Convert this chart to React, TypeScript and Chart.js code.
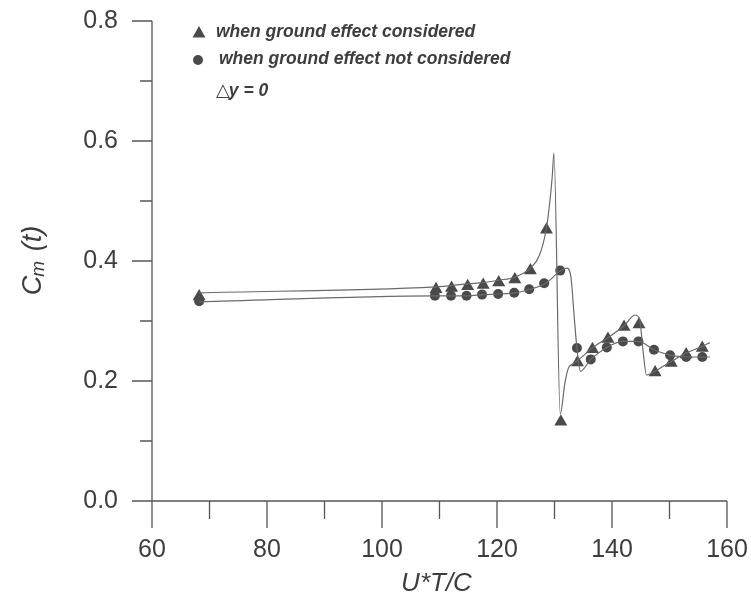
import React, { useEffect, useRef } from "react";
import { Chart, registerables } from "chart.js";

Chart.register(...registerables);

// ---- data ----
// curve with ground effect considered
const geCurveX = [68.2, 109.4, 112.1, 114.9, 117.6, 120.3, 123.1, 125.8, 127.4, 128.6, 129.2, 129.6, 129.9, 131.0, 131.8, 132.4, 133.3, 134.0, 136.7, 139.4, 142.2, 144.0, 144.8, 145.4, 146.0, 147.6, 150.4, 153.0, 155.8, 157.0];
const geCurveY = [0.347, 0.357, 0.359, 0.362, 0.364, 0.368, 0.373, 0.388, 0.41, 0.455, 0.5, 0.54, 0.58, 0.145, 0.196, 0.221, 0.229, 0.234, 0.256, 0.273, 0.293, 0.31, 0.303, 0.25, 0.21, 0.217, 0.233, 0.247, 0.258, 0.264];
// curve without ground effect
const ngeCurveX = [68.2, 109.4, 112.1, 114.9, 117.6, 120.3, 123.1, 125.8, 128.5, 131.1, 132.2, 132.9, 133.4, 133.9, 134.5, 136.3, 139.1, 141.9, 144.6, 147.3, 150.1, 152.9, 155.7, 157.0];
const ngeCurveY = [0.332, 0.342, 0.342, 0.342, 0.344, 0.345, 0.347, 0.353, 0.363, 0.384, 0.388, 0.37, 0.31, 0.255, 0.216, 0.236, 0.256, 0.266, 0.266, 0.252, 0.243, 0.24, 0.24, 0.24];
// markers
const geMarkX = [68.2, 109.4, 112.1, 114.9, 117.6, 120.3, 123.1, 125.8, 128.6, 131.1, 134.0, 136.6, 139.3, 142.1, 144.7, 147.5, 150.3, 152.9, 155.7];
const geMarkY = [0.341, 0.353, 0.355, 0.358, 0.36, 0.364, 0.369, 0.384, 0.452, 0.132, 0.231, 0.253, 0.27, 0.29, 0.294, 0.214, 0.23, 0.244, 0.255];
const ngeMarkX = [68.2, 109.2, 112.0, 114.7, 117.4, 120.2, 123.0, 125.6, 128.2, 131.0, 133.9, 136.3, 139.1, 141.9, 144.6, 147.3, 150.1, 152.9, 155.7];
const ngeMarkY = [0.333, 0.342, 0.342, 0.342, 0.344, 0.345, 0.347, 0.353, 0.363, 0.384, 0.255, 0.236, 0.256, 0.266, 0.266, 0.252, 0.243, 0.24, 0.24];

// ticks
const xMajorTicks = [60, 80, 100, 120, 140, 160];
const xMinorTicks = [70, 90, 110, 130, 150];
const yMajorTicks = [0, 0.2, 0.4, 0.6, 0.8];
const yMinorTicks = [0.1, 0.3, 0.5, 0.7];

// texts
const legendLabels = ["when ground effect considered", "when ground effect not considered"];
const noteSymbol = "\u25B3";
const noteText = "y = 0";
const xTitle = "U*T/C";
const yTitleMain = "C";
const yTitleSub = "m";
const yTitleRest = " (t)";

const FONT = "'Liberation Sans', Arial, sans-serif";
const TEXT = "#3d3d3d";
const AXIS = "#555555";
const LINE = "#6a6a6a";
const MARK = "#4a4a4a";

const pts = (xs: number[], ys: number[]) => xs.map((x, i) => ({ x, y: ys[i] }));

const zeroPad = (s: any) => {
  s.paddingTop = 0;
  s.paddingBottom = 0;
  s.paddingLeft = 0;
  s.paddingRight = 0;
};

const decorPlugin = {
  id: "decor",
  afterDraw(chart: any) {
    const ctx: CanvasRenderingContext2D = chart.ctx;
    const xs = chart.scales.x;
    const ys = chart.scales.y;
    const { left, right, top, bottom } = chart.chartArea;
    ctx.save();
    ctx.strokeStyle = AXIS;
    ctx.lineWidth = 1.3;
    // axis lines
    ctx.beginPath();
    ctx.moveTo(left, ys.getPixelForValue(0.8));
    ctx.lineTo(left, bottom);
    ctx.lineTo(xs.getPixelForValue(160), bottom);
    ctx.stroke();
    // x ticks
    ctx.beginPath();
    xMajorTicks.forEach((v) => {
      const p = xs.getPixelForValue(v);
      ctx.moveTo(p, bottom);
      ctx.lineTo(p, bottom + 27);
    });
    xMinorTicks.forEach((v) => {
      const p = xs.getPixelForValue(v);
      ctx.moveTo(p, bottom);
      ctx.lineTo(p, bottom + 18);
    });
    // y ticks
    yMajorTicks.forEach((v) => {
      const p = ys.getPixelForValue(v);
      ctx.moveTo(left, p);
      ctx.lineTo(left - 20, p);
    });
    yMinorTicks.forEach((v) => {
      const p = ys.getPixelForValue(v);
      ctx.moveTo(left, p);
      ctx.lineTo(left - 12, p);
    });
    ctx.stroke();

    // x title
    ctx.fillStyle = TEXT;
    ctx.font = `italic 26px ${FONT}`;
    ctx.textAlign = "center";
    ctx.textBaseline = "middle";
    ctx.fillText(xTitle, (left + right) / 2 - 3, 584);

    // y title (rotated, with subscript)
    ctx.save();
    ctx.translate(33, (top + bottom) / 2);
    ctx.rotate(-Math.PI / 2);
    ctx.textAlign = "left";
    ctx.textBaseline = "middle";
    const fMain = `italic 27px ${FONT}`;
    const fSub = `italic 19px ${FONT}`;
    ctx.font = fMain;
    const wC = ctx.measureText(yTitleMain).width;
    const wR = ctx.measureText(yTitleRest).width;
    ctx.font = fSub;
    const wM = ctx.measureText(yTitleSub).width;
    const total = wC + wM + wR;
    let cx = -total / 2;
    ctx.font = fMain;
    ctx.fillText(yTitleMain, cx, 0);
    cx += wC - 1;
    ctx.font = fSub;
    ctx.fillText(yTitleSub, cx, 6);
    cx += wM + 2;
    ctx.font = fMain;
    ctx.fillText(yTitleRest, cx, 0);
    ctx.restore();

    // legend
    ctx.fillStyle = MARK;
    ctx.beginPath();
    ctx.moveTo(199, 26);
    ctx.lineTo(205.5, 37.5);
    ctx.lineTo(192.5, 37.5);
    ctx.closePath();
    ctx.fill();
    ctx.beginPath();
    ctx.arc(198, 60, 5, 0, Math.PI * 2);
    ctx.fill();
    ctx.fillStyle = TEXT;
    ctx.textAlign = "left";
    ctx.textBaseline = "middle";
    ctx.font = `italic bold 17.5px ${FONT}`;
    ctx.fillText(legendLabels[0], 216, 32);
    ctx.fillText(legendLabels[1], 219, 59);
    ctx.font = `18px 'DejaVu Sans', sans-serif`;
    ctx.fillText(noteSymbol, 216, 91);
    const ws = ctx.measureText(noteSymbol).width;
    ctx.font = `italic bold 17.5px ${FONT}`;
    ctx.fillText(noteText, 216 + ws - 1, 91);
    ctx.restore();
  },
};

export default function App() {
  const ref = useRef<HTMLCanvasElement | null>(null);
  useEffect(() => {
    if (!ref.current) return;
    const chart = new Chart(ref.current, {
      type: "scatter",
      data: {
        datasets: [
          {
            type: "line",
            label: "ge-curve",
            data: pts(geCurveX, geCurveY),
            borderColor: LINE,
            borderWidth: 1.2,
            pointRadius: 0,
            fill: false,
            cubicInterpolationMode: "monotone",
          } as any,
          {
            type: "line",
            label: "nge-curve",
            data: pts(ngeCurveX, ngeCurveY),
            borderColor: LINE,
            borderWidth: 1.2,
            pointRadius: 0,
            fill: false,
            cubicInterpolationMode: "monotone",
          } as any,
          {
            label: legendLabels[1],
            data: pts(ngeMarkX, ngeMarkY),
            pointStyle: "circle",
            pointRadius: 5,
            backgroundColor: MARK,
            borderColor: MARK,
            borderWidth: 0,
            showLine: false,
          },
          {
            label: legendLabels[0],
            data: pts(geMarkX, geMarkY),
            pointStyle: "triangle",
            pointRadius: 7.5,
            backgroundColor: MARK,
            borderColor: MARK,
            borderWidth: 0,
            showLine: false,
          },
        ],
      },
      options: {
        animation: false,
        responsive: true,
        maintainAspectRatio: false,
        layout: { padding: { top: 21, right: 24, left: 0, bottom: 0 } },
        plugins: { legend: { display: false }, tooltip: { enabled: false } },
        scales: {
          x: {
            type: "linear",
            min: 60,
            max: 160,
            afterBuildTicks: (s: any) => {
              s.ticks = xMajorTicks.map((v) => ({ value: v }));
            },
            afterFit: (s: any) => {
              s.height = 105;
              zeroPad(s);
            },
            grid: { display: false, drawTicks: false },
            border: { display: false },
            ticks: {
              padding: 34,
              color: TEXT,
              font: { family: FONT, size: 25 },
              callback: (v: any) => String(v),
              maxRotation: 0,
            },
          },
          y: {
            type: "linear",
            min: 0,
            max: 0.8,
            afterBuildTicks: (s: any) => {
              s.ticks = yMajorTicks.map((v) => ({ value: v }));
            },
            afterFit: (s: any) => {
              s.width = 152;
              zeroPad(s);
            },
            grid: { display: false, drawTicks: false },
            border: { display: false },
            ticks: {
              padding: 34,
              color: TEXT,
              font: { family: FONT, size: 25 },
              callback: (v: any) => Number(v).toFixed(1),
            },
          },
        },
      },
      plugins: [decorPlugin],
    });
    return () => chart.destroy();
  }, []);
  return (
    <div style={{ position: "absolute", left: 0, top: 0, width: 751, height: 606, background: "#fff" }}>
      <canvas ref={ref} />
    </div>
  );
}
